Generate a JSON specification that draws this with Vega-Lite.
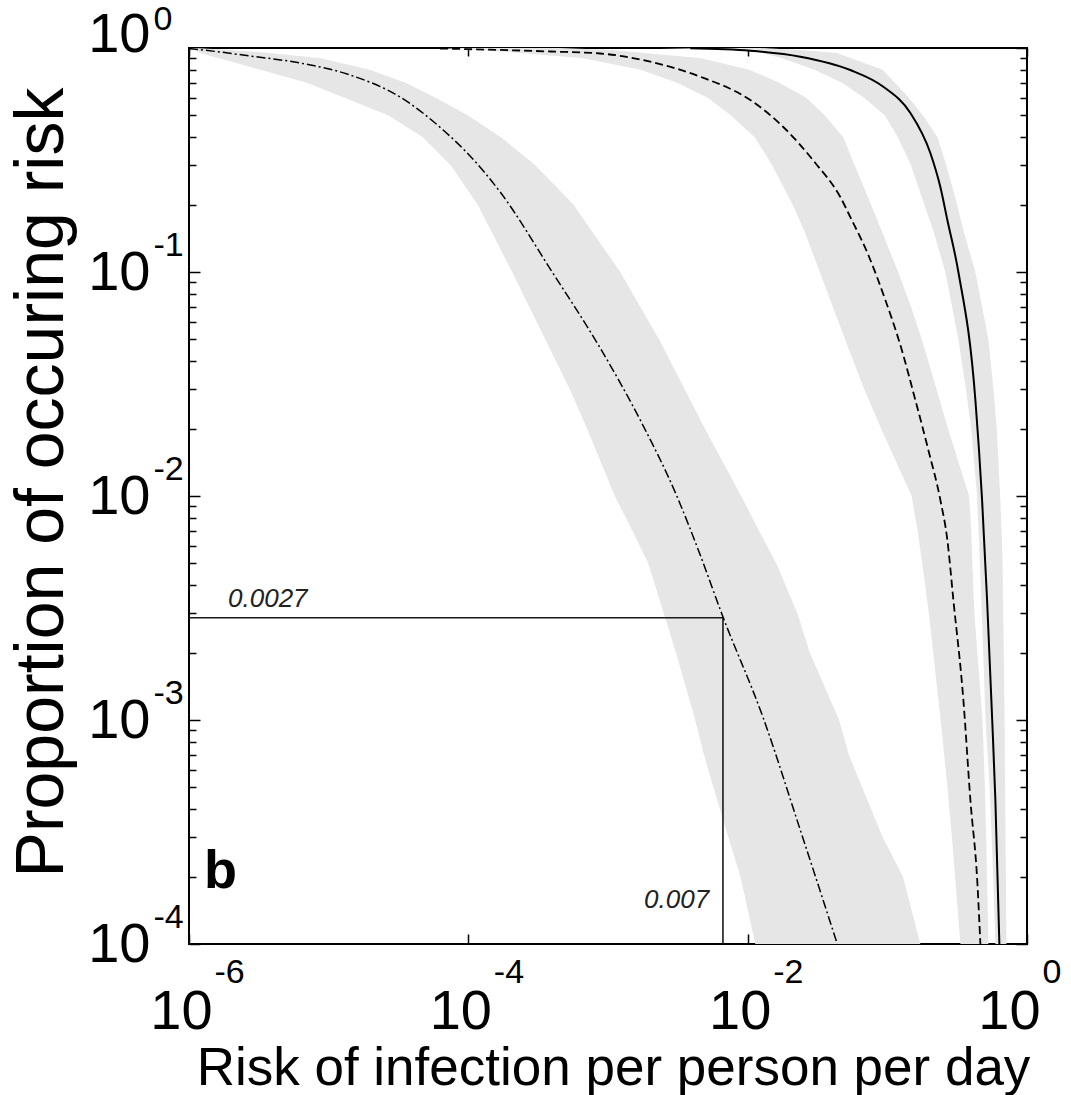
{
  "$schema": "https://vega.github.io/schema/vega-lite/v6.json",
  "width": 838,
  "height": 896,
  "autosize": {"type": "none"},
  "padding": {"left": 189, "top": 48, "right": 44, "bottom": 151},
  "background": "white",
  "config": {
    "view": {"stroke": "black", "strokeWidth": 2},
    "axis": {"labelFont": "Liberation Sans", "titleFont": "Liberation Sans", "labelColor": "black", "titleColor": "black", "tickColor": "black", "grid": false, "labelOverlap": false, "labelFlush": false, "domain": false, "titleFontWeight": "normal", "tickWidth": 1.5}
  },
  "resolve": {"axis": {"x": "independent", "y": "independent"}},
  "datasets": {
    "bandA": [
      {"y": 1, "lo": 1.0e-6, "hi": 1.1e-6},
      {"y": 0.98, "lo": 1.086e-6, "hi": 1.966e-6},
      {"y": 0.95, "lo": 1.199e-6, "hi": 3.804e-6},
      {"y": 0.9, "lo": 1.640e-6, "hi": 8.764e-6},
      {"y": 0.8, "lo": 3.247e-6, "hi": 1.969e-5},
      {"y": 0.7, "lo": 6.978e-6, "hi": 3.548e-5},
      {"y": 0.6, "lo": 1.296e-5, "hi": 5.821e-5},
      {"y": 0.5, "lo": 2.686e-5, "hi": 9.98e-5},
      {"y": 0.4, "lo": 4.729e-5, "hi": 1.709e-4},
      {"y": 0.3, "lo": 7.478e-5, "hi": 3.015e-4},
      {"y": 0.2, "lo": 1.164e-4, "hi": 5.651e-4},
      {"y": 0.15, "lo": 1.477e-4, "hi": 7.783e-4},
      {"y": 0.1, "lo": 2.060e-4, "hi": 1.223e-3},
      {"y": 0.07, "lo": 2.730e-4, "hi": 1.700e-3},
      {"y": 0.05, "lo": 3.562e-4, "hi": 2.323e-3},
      {"y": 0.03, "lo": 5.327e-4, "hi": 3.543e-3},
      {"y": 0.02, "lo": 7.072e-4, "hi": 4.936e-3},
      {"y": 0.01, "lo": 1.119e-3, "hi": 8.98e-3},
      {"y": 0.007, "lo": 1.494e-3, "hi": 1.206e-2},
      {"y": 0.005, "lo": 1.944e-3, "hi": 1.603e-2},
      {"y": 0.003, "lo": 2.506e-3, "hi": 2.270e-2},
      {"y": 0.002, "lo": 3.065e-3, "hi": 2.780e-2},
      {"y": 0.001, "lo": 4.213e-3, "hi": 4.522e-2},
      {"y": 0.0007, "lo": 4.863e-3, "hi": 5.299e-2},
      {"y": 0.0005, "lo": 5.688e-3, "hi": 6.610e-2},
      {"y": 0.0003, "lo": 7.273e-3, "hi": 9.269e-2},
      {"y": 0.0002, "lo": 8.880e-3, "hi": 0.1292},
      {"y": 0.0001, "lo": 1.134e-2, "hi": 0.1723}
    ],
    "bandB": [
      {"y": 1, "lo": 6.28e-5, "hi": 4.544e-4},
      {"y": 0.98, "lo": 1.162e-4, "hi": 1.056e-3},
      {"y": 0.95, "lo": 2.385e-4, "hi": 1.829e-3},
      {"y": 0.9, "lo": 6.643e-4, "hi": 4.675e-3},
      {"y": 0.8, "lo": 1.712e-3, "hi": 1.023e-2},
      {"y": 0.7, "lo": 3.121e-3, "hi": 1.681e-2},
      {"y": 0.6, "lo": 5.178e-3, "hi": 2.628e-2},
      {"y": 0.5, "lo": 7.603e-3, "hi": 3.572e-2},
      {"y": 0.4, "lo": 1.122e-2, "hi": 4.832e-2},
      {"y": 0.3, "lo": 1.499e-2, "hi": 5.840e-2},
      {"y": 0.2, "lo": 2.097e-2, "hi": 7.642e-2},
      {"y": 0.15, "lo": 2.573e-2, "hi": 9.208e-2},
      {"y": 0.1, "lo": 3.285e-2, "hi": 0.1195},
      {"y": 0.07, "lo": 4.07e-2, "hi": 0.1477},
      {"y": 0.05, "lo": 4.985e-2, "hi": 0.1766},
      {"y": 0.03, "lo": 6.832e-2, "hi": 0.2251},
      {"y": 0.02, "lo": 9.027e-2, "hi": 0.2717},
      {"y": 0.01, "lo": 0.1491, "hi": 0.3848},
      {"y": 0.007, "lo": 0.1648, "hi": 0.3990},
      {"y": 0.005, "lo": 0.1778, "hi": 0.406},
      {"y": 0.003, "lo": 0.1982, "hi": 0.4199},
      {"y": 0.002, "lo": 0.2129, "hi": 0.4412},
      {"y": 0.001, "lo": 0.2408, "hi": 0.480},
      {"y": 0.0007, "lo": 0.2551, "hi": 0.4904},
      {"y": 0.0005, "lo": 0.2694, "hi": 0.4993},
      {"y": 0.0003, "lo": 0.2902, "hi": 0.5102},
      {"y": 0.0002, "lo": 0.3055, "hi": 0.517},
      {"y": 0.0001, "lo": 0.3334, "hi": 0.529}
    ],
    "bandC": [
      {"y": 1, "lo": 2.365e-3, "hi": 1.231e-2},
      {"y": 0.98, "lo": 1.044e-2, "hi": 2.361e-2},
      {"y": 0.95, "lo": 1.262e-2, "hi": 4.354e-2},
      {"y": 0.9, "lo": 1.766e-2, "hi": 5.522e-2},
      {"y": 0.8, "lo": 3.005e-2, "hi": 9.24e-2},
      {"y": 0.7, "lo": 4.729e-2, "hi": 0.1135},
      {"y": 0.6, "lo": 6.820e-2, "hi": 0.1426},
      {"y": 0.5, "lo": 9.643e-2, "hi": 0.1799},
      {"y": 0.4, "lo": 0.1189, "hi": 0.2285},
      {"y": 0.3, "lo": 0.1477, "hi": 0.2646},
      {"y": 0.2, "lo": 0.1838, "hi": 0.3157},
      {"y": 0.15, "lo": 0.2157, "hi": 0.3537},
      {"y": 0.1, "lo": 0.2602, "hi": 0.4269},
      {"y": 0.07, "lo": 0.2907, "hi": 0.4768},
      {"y": 0.05, "lo": 0.3226, "hi": 0.529},
      {"y": 0.03, "lo": 0.3655, "hi": 0.5754},
      {"y": 0.02, "lo": 0.3984, "hi": 0.6067},
      {"y": 0.01, "lo": 0.4390, "hi": 0.6425},
      {"y": 0.007, "lo": 0.4500, "hi": 0.6577},
      {"y": 0.005, "lo": 0.4597, "hi": 0.6687},
      {"y": 0.003, "lo": 0.4745, "hi": 0.6754},
      {"y": 0.002, "lo": 0.4856, "hi": 0.6820},
      {"y": 0.001, "lo": 0.5051, "hi": 0.6911},
      {"y": 0.0007, "lo": 0.5230, "hi": 0.6938},
      {"y": 0.0005, "lo": 0.5396, "hi": 0.6968},
      {"y": 0.0003, "lo": 0.5586, "hi": 0.702},
      {"y": 0.0002, "lo": 0.5717, "hi": 0.7061},
      {"y": 0.0001, "lo": 0.5937, "hi": 0.7119}
    ],
    "lineA": [
      {"x": 1e-6, "y": 0.9949}, {"x": 1.668e-6, "y": 0.9597}, {"x": 2.735e-6, "y": 0.921},
      {"x": 6.24e-6, "y": 0.857}, {"x": 1.423e-5, "y": 0.7576}, {"x": 3.246e-5, "y": 0.6043},
      {"x": 6.60e-5, "y": 0.4305}, {"x": 1.013e-4, "y": 0.333}, {"x": 1.689e-4, "y": 0.2276},
      {"x": 3.984e-4, "y": 0.1}, {"x": 8.79e-4, "y": 0.04577}, {"x": 1.701e-3, "y": 0.02184},
      {"x": 3.131e-3, "y": 0.009897}, {"x": 4.575e-3, "y": 0.005453}, {"x": 6.577e-3, "y": 0.002942},
      {"x": 1.293e-2, "y": 0.001021}, {"x": 2.381e-2, "y": 3.228e-4}, {"x": 4.384e-2, "y": 1e-4}
    ],
    "lineB": [
      {"x": 6.28e-5, "y": 0.9949}, {"x": 3.855e-4, "y": 0.9647}, {"x": 8.79e-4, "y": 0.945},
      {"x": 2.006e-3, "y": 0.8688}, {"x": 4.575e-3, "y": 0.7446}, {"x": 1.044e-2, "y": 0.5859},
      {"x": 1.799e-2, "y": 0.444}, {"x": 3.050e-2, "y": 0.3066}, {"x": 4.604e-2, "y": 0.2162},
      {"x": 5.43e-2, "y": 0.176}, {"x": 7.309e-2, "y": 0.1191}, {"x": 9.676e-2, "y": 0.07499},
      {"x": 0.1239, "y": 0.04721}, {"x": 0.1587, "y": 0.02683}, {"x": 0.1966, "y": 0.01605},
      {"x": 0.2397, "y": 0.009597}, {"x": 0.269, "y": 0.006363}, {"x": 0.2971, "y": 0.003433},
      {"x": 0.3503, "y": 0.001229}, {"x": 0.3932, "y": 4.394e-4}, {"x": 0.4413, "y": 1.873e-4},
      {"x": 0.4637, "y": 1e-4}
    ],
    "lineC": [
      {"x": 3.881e-3, "y": 0.997}, {"x": 1.044e-2, "y": 0.9726}, {"x": 2.381e-2, "y": 0.9145},
      {"x": 5.43e-2, "y": 0.7976}, {"x": 9.36e-2, "y": 0.6718}, {"x": 0.1462, "y": 0.5128},
      {"x": 0.2032, "y": 0.3398}, {"x": 0.2397, "y": 0.2395}, {"x": 0.269, "y": 0.1707},
      {"x": 0.3226, "y": 0.1}, {"x": 0.427, "y": 0.02683}, {"x": 0.4769, "y": 0.009597},
      {"x": 0.5178, "y": 0.003433}, {"x": 0.5623, "y": 0.001031}, {"x": 0.5937, "y": 4.394e-4},
      {"x": 0.6342, "y": 1e-4}
    ],
    "box": [
      {"x": 1e-6, "x2": 6.654e-3, "y": 2.862e-3, "y2": 2.862e-3},
      {"x": 6.654e-3, "x2": 6.654e-3, "y": 1e-4, "y2": 2.862e-3}
    ],
    "panel": [{"x": 1.281e-6, "y": 1.778e-4, "t": "b"}],
    "noteLeft": [{"x": 1.903e-6, "y": 3.2e-3, "t": "0.0027"}],
    "noteRight": [{"x": 5.3e-3, "y": 1.449e-4, "t": "0.007"}]
  },
  "layer": [
    {
      "data": {"name": "bandA"},
      "mark": {"type": "area", "orient": "horizontal", "color": "#e6e6e6"},
      "encoding": {
        "y": {"field": "y", "type": "quantitative", "scale": {"type": "log", "domain": [0.0001, 1]},
          "axis": {"orient": "left", "values": [0.0001, 0.001, 0.01, 0.1, 1], "ticks": false, "labelExpr": "'10'", "labelFontSize": 56, "labelAlign": "right", "labelBaseline": "middle", "labelPadding": 39,
            "labelOffset": {"condition": {"test": "datum.value == 1", "value": -14}, "value": 0},
            "title": "Proportion of occuring risk", "titleFontSize": 68, "titleAngle": -90, "titleBaseline": "alphabetic", "titleAlign": "center", "titleX": -127, "titleY": 434}},
        "x": {"field": "lo", "type": "quantitative", "stack": null, "scale": {"type": "log", "domain": [0.000001, 1]},
          "axis": {"orient": "bottom", "values": [0.000001, 0.0001, 0.01, 1], "ticks": false, "labelExpr": "'10'", "labelFontSize": 56, "labelAlign": "center", "labelBaseline": "alphabetic",
            "labelOffset": {"condition": {"test": "datum.value == 1", "value": -18}, "value": -8}, "labelPadding": 84,
            "title": "Risk of infection per person per day", "titleFontSize": 53, "titleBaseline": "alphabetic", "titleAlign": "center", "titleX": 424, "titleY": 140}},
        "x2": {"field": "hi"}
      }
    },
    {
      "data": {"name": "bandB"},
      "mark": {"type": "area", "orient": "horizontal", "color": "#e6e6e6"},
      "encoding": {
        "y": {"field": "y", "type": "quantitative", "scale": {"type": "log", "domain": [0.0001, 1]},
          "axis": {"orient": "left", "values": [0.0001, 0.001, 0.01, 0.1, 1], "ticks": false, "labelExpr": "'' + round(log(datum.value) / LN10)", "labelFontSize": 34, "labelAlign": "left", "labelBaseline": "middle", "labelPadding": 36,
            "labelOffset": {"condition": {"test": "datum.value == 1", "value": -29}, "value": -27}, "title": null}},
        "x": {"field": "lo", "type": "quantitative", "stack": null, "scale": {"type": "log", "domain": [0.000001, 1]},
          "axis": {"orient": "bottom", "values": [0.000001, 0.0001, 0.01, 1], "ticks": false, "labelExpr": "'' + round(log(datum.value) / LN10)", "labelFontSize": 34, "labelAlign": "left", "labelBaseline": "alphabetic",
            "labelOffset": {"condition": {"test": "datum.value == 1", "value": 15}, "value": 25}, "labelPadding": 38, "title": null}},
        "x2": {"field": "hi"}
      }
    },
    {
      "data": {"name": "bandC"},
      "mark": {"type": "area", "orient": "horizontal", "color": "#e6e6e6"},
      "encoding": {
        "y": {"field": "y", "type": "quantitative", "scale": {"type": "log", "domain": [0.0001, 1]},
          "axis": {"orient": "left", "values": [0.0001, 0.001, 0.01, 0.1, 1], "tickSize": -11, "labels": false, "title": null}},
        "x": {"field": "lo", "type": "quantitative", "stack": null, "scale": {"type": "log", "domain": [0.000001, 1]},
          "axis": {"orient": "bottom", "values": [0.000001, 0.0001, 0.01, 1], "tickSize": -10, "labels": false, "title": null}},
        "x2": {"field": "hi"}
      }
    },
    {
      "data": {"name": "box"},
      "mark": {"type": "rule", "color": "#1a1a1a", "strokeWidth": 1.6},
      "encoding": {
        "x": {"field": "x", "type": "quantitative", "scale": {"type": "log", "domain": [0.000001, 1]},
          "axis": {"orient": "top", "values": [0.000001, 0.0001, 0.01, 1], "tickSize": -8, "labels": false, "title": null}},
        "x2": {"field": "x2"},
        "y": {"field": "y", "type": "quantitative", "scale": {"type": "log", "domain": [0.0001, 1]},
          "axis": {"orient": "left", "values": [0.0002, 0.0003, 0.0004, 0.0005, 0.0006, 0.0007, 0.0008, 0.0009, 0.002, 0.003, 0.004, 0.005, 0.006, 0.007, 0.008, 0.009, 0.02, 0.03, 0.04, 0.05, 0.06, 0.07, 0.08, 0.09, 0.2, 0.3, 0.4, 0.5, 0.6, 0.7, 0.8, 0.9], "tickSize": -7, "labels": false, "title": null}},
        "y2": {"field": "y2"}
      }
    },
    {
      "data": {"name": "lineA"},
      "mark": {"type": "line", "color": "black", "strokeWidth": 1.5, "strokeDash": [9, 3, 2, 3], "interpolate": "monotone"},
      "encoding": {
        "x": {"field": "x", "type": "quantitative", "scale": {"type": "log", "domain": [0.000001, 1]}, "axis": null},
        "y": {"field": "y", "type": "quantitative", "scale": {"type": "log", "domain": [0.0001, 1]},
          "axis": {"orient": "right", "values": [0.0001, 0.001, 0.01, 0.1, 1], "tickSize": -11, "labels": false, "title": null}}
      }
    },
    {
      "data": {"name": "lineB"},
      "mark": {"type": "line", "color": "black", "strokeWidth": 1.8, "strokeDash": [8, 4], "interpolate": "monotone"},
      "encoding": {
        "x": {"field": "x", "type": "quantitative", "scale": {"type": "log", "domain": [0.000001, 1]}, "axis": null},
        "y": {"field": "y", "type": "quantitative", "scale": {"type": "log", "domain": [0.0001, 1]},
          "axis": {"orient": "right", "values": [0.0002, 0.0003, 0.0004, 0.0005, 0.0006, 0.0007, 0.0008, 0.0009, 0.002, 0.003, 0.004, 0.005, 0.006, 0.007, 0.008, 0.009, 0.02, 0.03, 0.04, 0.05, 0.06, 0.07, 0.08, 0.09, 0.2, 0.3, 0.4, 0.5, 0.6, 0.7, 0.8, 0.9], "tickSize": -7, "labels": false, "title": null}}
      }
    },
    {
      "data": {"name": "lineC"},
      "mark": {"type": "line", "color": "black", "strokeWidth": 2, "interpolate": "monotone"},
      "encoding": {
        "x": {"field": "x", "type": "quantitative", "scale": {"type": "log", "domain": [0.000001, 1]}, "axis": null},
        "y": {"field": "y", "type": "quantitative", "scale": {"type": "log", "domain": [0.0001, 1]}, "axis": null}
      }
    },
    {
      "data": {"name": "panel"},
      "mark": {"type": "text", "font": "Liberation Sans", "fontSize": 54, "fontWeight": "bold", "align": "left", "baseline": "alphabetic", "color": "black"},
      "encoding": {
        "x": {"field": "x", "type": "quantitative", "scale": {"type": "log", "domain": [0.000001, 1]}, "axis": null},
        "y": {"field": "y", "type": "quantitative", "scale": {"type": "log", "domain": [0.0001, 1]}, "axis": null},
        "text": {"field": "t"}
      }
    },
    {
      "data": {"name": "noteLeft"},
      "mark": {"type": "text", "font": "Liberation Sans", "fontSize": 26, "fontStyle": "italic", "align": "left", "baseline": "alphabetic", "color": "#222222"},
      "encoding": {
        "x": {"field": "x", "type": "quantitative", "scale": {"type": "log", "domain": [0.000001, 1]}, "axis": null},
        "y": {"field": "y", "type": "quantitative", "scale": {"type": "log", "domain": [0.0001, 1]}, "axis": null},
        "text": {"field": "t"}
      }
    },
    {
      "data": {"name": "noteRight"},
      "mark": {"type": "text", "font": "Liberation Sans", "fontSize": 26, "fontStyle": "italic", "align": "right", "baseline": "alphabetic", "color": "#222222"},
      "encoding": {
        "x": {"field": "x", "type": "quantitative", "scale": {"type": "log", "domain": [0.000001, 1]}, "axis": null},
        "y": {"field": "y", "type": "quantitative", "scale": {"type": "log", "domain": [0.0001, 1]}, "axis": null},
        "text": {"field": "t"}
      }
    }
  ]
}
